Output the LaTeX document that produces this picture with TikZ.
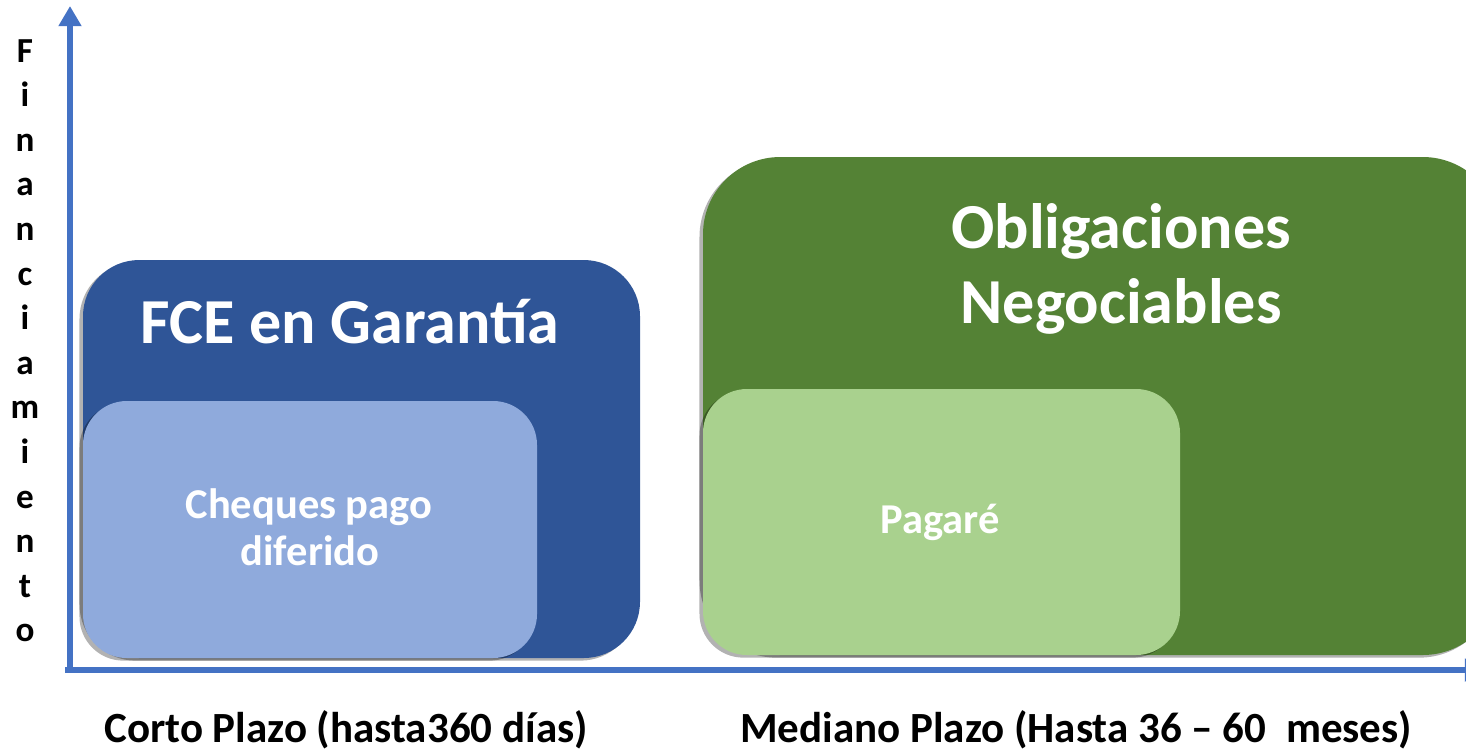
\documentclass[tikz,border=0pt]{standalone}
\usepackage{fontspec}
\setmainfont{Carlito}
\usetikzlibrary{arrows.meta,shadows}

\definecolor{ejeazul}{HTML}{4472C4}
\definecolor{azuloscuro}{HTML}{2F5597}
\definecolor{azulclaro}{HTML}{8FAADC}
\definecolor{verdeoscuro}{HTML}{548235}
\definecolor{verdeclaro}{HTML}{A9D18E}

\tikzset{
  caja/.style={rounded corners=#1, drop shadow={shadow xshift=-2pt,shadow yshift=-1.5pt,opacity=.3,fill=black}},
  eje/.style={ejeazul,line width=2.9pt,-{Triangle[width=12.5pt,length=11.5pt]}},
  titulo/.style={text=white,font=\fontsize{36.5}{40}\selectfont\bfseries,inner sep=0pt,anchor=base},
  subtitulo/.style={text=white,font=\fontsize{24.2}{28}\selectfont\bfseries,inner sep=0pt,anchor=base},
  etiqueta/.style={font=\fontsize{24.5}{29}\selectfont\bfseries,inner sep=0pt,anchor=base},
  vertletra/.style={font=\fontsize{20}{24}\selectfont\bfseries,inner sep=0pt,anchor=base}
}

\begin{document}
\begin{tikzpicture}[x=0.02cm,y=-0.02cm]
\useasboundingbox (0,0) rectangle (1466,752);
\clip (0,0) rectangle (1466,752);

% Boxes
\fill[azuloscuro,caja=32pt] (83,260) rectangle (640,658);
\fill[azulclaro,caja=25pt] (83,401) rectangle (537,658);
\fill[verdeoscuro,caja=44pt] (703,157) rectangle (1500,655);
\fill[verdeclaro,caja=25pt] (703,389) rectangle (1180,655);

% Box labels
\node[titulo] (fce) at (350,343) {FCE en Garantía};
\node[titulo] (obligaciones) at (1121,248) {Obligaciones};
\node[titulo] (negociables) at (1121,323) {Negociables};
\node[subtitulo] (cheques) at (309,518) {Cheques pago};
\node[subtitulo] (diferido) at (310,565) {diferido};
\node[subtitulo] (pagare) at (940,533) {Pagaré};

% Axes
\coordinate (origen) at (70,670);
\coordinate (arriba) at (70,6);
\coordinate (derecha) at (1485,670);
\draw[eje] (origen) -- (arriba);
\draw[eje] (65,670) -- (derecha);

% Axis labels
\node[etiqueta] (corto) at (346,742) {Corto Plazo (hasta360 días)};
\node[etiqueta] (mediano) at (1076,742) {Mediano Plazo (Hasta 36 – 60 \ meses)};
\foreach \letra [count=\i from 0] in {F,i,n,a,n,c,i,a,m,i,e,n,t,o}
  \node[vertletra] (v\i) at (25,62+44.6*\i) {\letra};

\end{tikzpicture}
\end{document}
